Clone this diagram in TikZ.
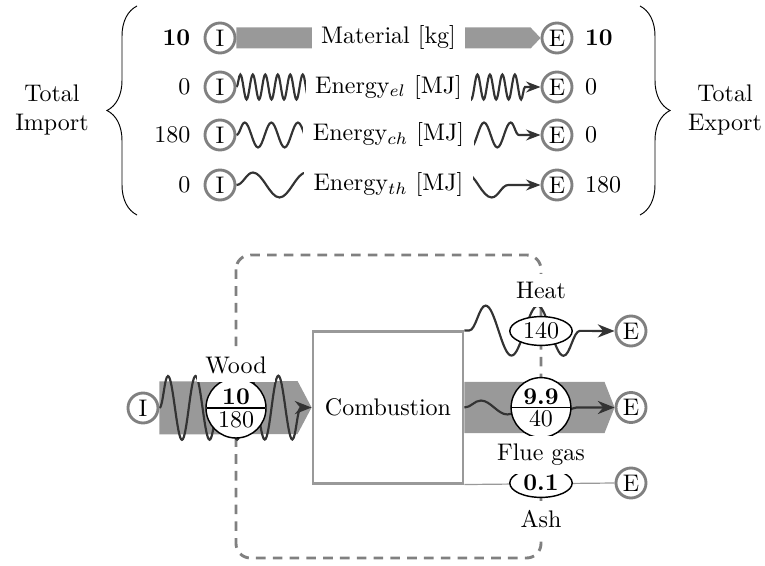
\documentclass[tikz,border=0pt]{standalone}
\usepackage{amsmath,amssymb}
\usepackage{xcolor}
\usepackage{tikz}
\usetikzlibrary{shapes,arrows.meta,positioning,calc,decorations.pathmorphing,decorations.pathreplacing}
\definecolor{stangray}{RGB}{128,128,128}
\definecolor{stanband}{RGB}{153,153,153}
\definecolor{stanwave}{RGB}{51,51,51}
\pgfdeclarelayer{bound}
\pgfdeclarelayer{flows}
\pgfsetlayers{bound,flows,main}

\begin{document}
\begin{tikzpicture}[
    x=0.4167pt, y=0.4167pt,
    port/.style={circle, draw=stangray, fill=white, line width=1.2pt, inner sep=0pt, minimum size=12.5pt},
    legtext/.style={fill=white, inner xsep=4pt},
    lbl/.style={fill=white},
    process/.style={rectangle, draw=stanband, fill=white, line width=1.2pt, minimum width=62.5pt, minimum height=63pt},
    valuenode/.style={circle split, draw, fill=white, line width=0.6pt, inner sep=1pt, minimum size=22.5pt},
    amount/.style={ellipse, draw, fill=white, line width=0.6pt, inner sep=0pt, minimum width=26pt, minimum height=12pt},
    band/.style={fill=stanband},
    wave/.style={draw=stanwave, line width=0.9pt, decorate},
    elwave/.style={wave, decoration={snake, amplitude=5.2pt, segment length=5.2pt, post length=5.2pt}},
    chwave/.style={wave, decoration={snake, amplitude=5.2pt, segment length=11.08pt, post length=6pt}},
    thwave/.style={wave, decoration={snake, amplitude=5.2pt, segment length=22.1pt, post length=8.25pt}},
    smalltip/.style={-{Stealth[length=6pt, width=4.5pt]}},
    bigtip/.style={-{Stealth[length=7pt, width=5.5pt]}},
    sysbound/.style={draw=stangray, line width=1.2pt, dash pattern=on 4pt off 3pt, rounded corners=6pt}
]
\useasboundingbox (0,0) rectangle (765,565);

% Legend - ports
\node[port] (li1) at (220,527) {I};
\node[port] (le1) at (557,527) {E};
\node[port] (li2) at (220,478) {I};
\node[port] (le2) at (557,478) {E};
\node[port] (li3) at (220,430) {I};
\node[port] (le3) at (557,430) {E};
\node[port] (li4) at (220,380) {I};
\node[port] (le4) at (557,380) {E};

% Legend - texts
\node[legtext] (lt1) at ($(li1)!.5!(le1)$) {Material [kg]};
\node[legtext] (lt2) at ($(li2)!.5!(le2)$) {Energy$_{el}$ [MJ]};
\node[legtext] (lt3) at ($(li3)!.5!(le3)$) {Energy$_{ch}$ [MJ]};
\node[legtext] (lt4) at ($(li4)!.5!(le4)$) {Energy$_{th}$ [MJ]};

% Legend - totals
\node[left=2pt of li1] (ln1) {\textbf{10}};
\node[left=2pt of li2] (ln2) {0};
\node[left=2pt of li3] (ln3) {180};
\node[left=2pt of li4] (ln4) {0};
\node[right=1.3pt of le1] (rn1) {\textbf{10}};
\node[right=1.3pt of le2] (rn2) {0};
\node[right=1.3pt of le3] (rn3) {0};
\node[right=1.3pt of le4] (rn4) {180};

\node[align=center] (timp) at (52,455) {Total\\Import};
\node[align=center] (texp) at (725,455) {Total\\Export};
\draw[decorate, decoration={brace, amplitude=12.5pt}] (137,350) -- (137,559);
\draw[decorate, decoration={brace, amplitude=12.5pt}] (640,559) -- (640,350);

% Process diagram - nodes
\node[port] (wi) at (143,157) {I};
\node[process] (comb) at (388,157.5) {Combustion};
\node[port] (he) at (631,234) {E};
\node[port] (fe) at (631,157.5) {E};
\node[port] (ae) at (631,82) {E};

\node[valuenode] (vwood) at (236,157) {\textbf{10}\nodepart{lower}180};
\node[amount] (vheat) at (541,234) {140};
\node[valuenode] (vflue) at (541,157.5) {\textbf{9.9}\nodepart{lower}40};
\node[amount] (vash) at (541,82) {\textbf{0.1}};

% Labels
\node[lbl, above=-2pt of vwood] (lwood) {Wood};
\node[lbl, above=3.5pt of vheat] (lheat) {Heat};
\node[lbl, below=-1pt of vflue] (lflue) {Flue gas};
\node[lbl, below=1.7pt of vash] (lash) {Ash};

% System boundary
\begin{pgfonlayer}{bound}
\coordinate (sysnw) at (236,310);
\coordinate (sysse) at (541,7);
\draw[sysbound] (sysnw) rectangle (sysse);
\end{pgfonlayer}

\begin{pgfonlayer}{flows}
% Legend - flows
\fill[band] ($(li1.east)+(0,10.5)$) -- ($(le1.west)+(-10,10.5)$) -- (le1.west)
    -- ($(le1.west)+(-10,-10.5)$) -- ($(li1.east)+(0,-10.5)$) -- cycle;
\draw[elwave, smalltip] (li2.east) -- (le2.west);
\draw[chwave, smalltip] (li3.east) -- (le3.west);
\draw[thwave, smalltip] (li4.east) -- (le4.west);

% Process diagram - flows
\fill[band] ($(wi.east)+(0,26.5)$) -- ($(comb.west)+(-14,26.5)$) -- (comb.west)
    -- ($(comb.west)+(-14,-26.5)$) -- ($(wi.east)+(0,-26.5)$) -- cycle;
\fill[band] ($(comb.east)+(0,25.5)$) -- ($(fe.west)+(-10,25.5)$) -- (fe.west)
    -- ($(fe.west)+(-10,-25.5)$) -- ($(comb.east)+(0,-25.5)$) -- cycle;
\draw[wave, bigtip, decoration={snake, amplitude=13.3pt, segment length=11.5pt, post length=1pt}] (wi.east) -- (comb.west);
\draw[wave, bigtip, decoration={snake, amplitude=10.4pt, segment length=21.7pt, pre length=2pt, post length=9pt}] (comb.north east) -- (he.west);
\draw[wave, bigtip, decoration={snake, amplitude=2.9pt, segment length=22pt, post length=10.6pt}] (comb.east) -- (fe.west);
\draw[stanband, line width=0.5pt] (comb.south east) -- (ae.west);
\end{pgfonlayer}

\end{tikzpicture}
\end{document}
